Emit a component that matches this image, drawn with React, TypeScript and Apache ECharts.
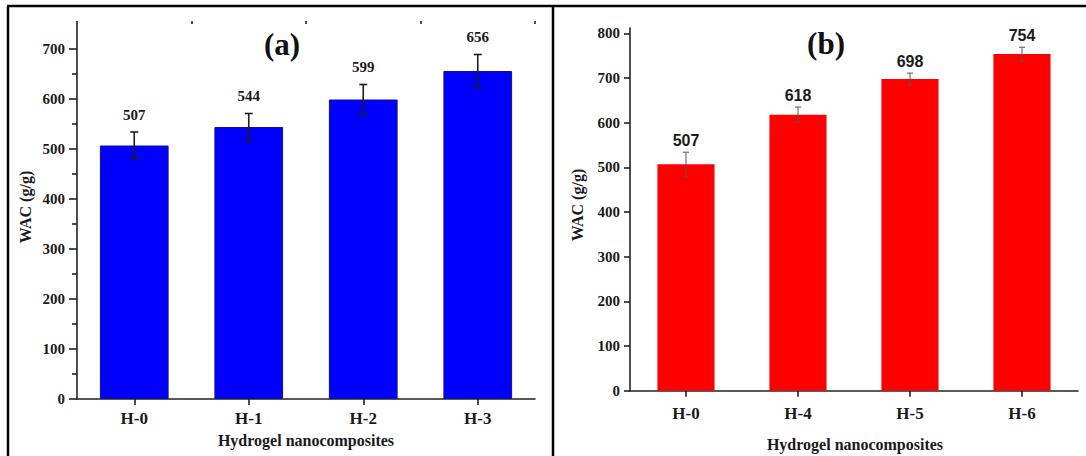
import React, { useEffect, useRef } from "react";
import * as echarts from "echarts";

// Panel (a): water absorption capacity of H-0 … H-3
const categoriesA = ["H-0", "H-1", "H-2", "H-3"];
const wacA = [507, 544, 599, 656];
const errA = [27, 27, 30, 33];

// Panel (b): water absorption capacity of H-0, H-4 … H-6
const categoriesB = ["H-0", "H-4", "H-5", "H-6"];
const wacB = [507, 618, 698, 754];
const errB = [27, 17, 13, 15];

const yTicksA = [0, 100, 200, 300, 400, 500, 600, 700];
const yTicksB = [0, 100, 200, 300, 400, 500, 600, 700, 800];

const SERIF = "'Liberation Serif', 'Times New Roman', serif";
const SANS = "'Liberation Sans', Arial, sans-serif";
const AXIS = "#222";

function errorBarSeries(
  xAxisIndex: number,
  yAxisIndex: number,
  values: number[],
  errs: number[],
  opts: { stroke: string; width: number; cap: number; labelFont: string; gap: number }
) {
  return {
    type: "custom",
    xAxisIndex,
    yAxisIndex,
    z: 5,
    data: values.map((v, i) => [i, v, errs[i]]),
    encode: { x: 0, y: 1 },
    renderItem: (_params: any, api: any) => {
      const i = api.value(0);
      const v = api.value(1);
      const e = api.value(2);
      const top = api.coord([i, v + e]);
      const bot = api.coord([i, v - e]);
      const s = { stroke: opts.stroke, lineWidth: opts.width };
      return {
        type: "group",
        children: [
          { type: "line", shape: { x1: top[0], y1: top[1], x2: bot[0], y2: bot[1] }, style: s },
          { type: "line", shape: { x1: top[0] - opts.cap, y1: top[1], x2: top[0] + opts.cap, y2: top[1] }, style: s },
          { type: "line", shape: { x1: bot[0] - opts.cap, y1: bot[1], x2: bot[0] + opts.cap, y2: bot[1] }, style: s },
          {
            type: "text",
            x: top[0],
            y: top[1] - opts.gap,
            style: {
              text: String(v),
              font: opts.labelFont,
              fill: "#1a1a1a",
              align: "center",
              verticalAlign: "bottom",
            },
          },
        ],
      };
    },
  };
}

export default function App() {
  const ref = useRef<HTMLDivElement>(null);

  useEffect(() => {
    if (!ref.current) return;
    const chart = echarts.init(ref.current, undefined, { renderer: "svg" });

    const axisLine = { show: true, lineStyle: { color: AXIS, width: 1.6 } };

    chart.setOption({
      animation: false,
      backgroundColor: "#ffffff",
      grid: [
        { left: 77, top: 24, width: 458, height: 375 },
        { left: 630, top: 28, width: 448, height: 362.7 },
      ],
      xAxis: [
        {
          type: "category",
          gridIndex: 0,
          data: categoriesA,
          axisLine,
          axisTick: { show: true, alignWithLabel: true, length: 6, lineStyle: { color: AXIS, width: 1.6 } },
          axisLabel: { margin: 11, fontFamily: SERIF, fontWeight: "bold", fontSize: 17, color: "#1a1a1a" },
          splitLine: { show: false },
        },
        {
          type: "category",
          gridIndex: 0,
          data: categoriesA,
          axisLine: { show: false },
          axisTick: { show: true, length: 3, lineStyle: { color: AXIS, width: 1.6 } },
          axisLabel: { show: false },
          splitLine: { show: false },
        },
        {
          type: "category",
          gridIndex: 1,
          data: categoriesB,
          axisLine,
          axisTick: { show: true, alignWithLabel: true, length: 6, lineStyle: { color: AXIS, width: 1.6 } },
          axisLabel: { margin: 14, fontFamily: SERIF, fontWeight: "bold", fontSize: 17, color: "#1a1a1a" },
          splitLine: { show: false },
        },
      ],
      yAxis: [
        {
          type: "value",
          gridIndex: 0,
          min: 0,
          max: 750,
          interval: 100,
          axisLine,
          axisTick: { show: true, length: 8, lineStyle: { color: AXIS, width: 1.6 }, customValues: yTicksA },
          minorTick: { show: true, splitNumber: 2, length: 5, lineStyle: { color: AXIS, width: 1.6 } },
          axisLabel: {
            margin: 12,
            fontFamily: SERIF,
            fontWeight: "bold",
            fontSize: 15,
            color: "#1a1a1a",
            customValues: yTicksA,
          },
          splitLine: { show: false },
        },
        {
          type: "value",
          gridIndex: 1,
          min: 0,
          max: 812,
          interval: 100,
          axisLine,
          axisTick: { show: true, length: 6, lineStyle: { color: AXIS, width: 1.6 }, customValues: yTicksB },
          axisLabel: {
            margin: 10,
            fontFamily: SERIF,
            fontWeight: "bold",
            fontSize: 15,
            color: "#1a1a1a",
            customValues: yTicksB,
          },
          splitLine: { show: false },
        },
      ],
      series: [
        {
          type: "bar",
          xAxisIndex: 0,
          yAxisIndex: 0,
          data: wacA,
          barWidth: "60%",
          itemStyle: { color: "#0000ff", borderColor: "#10108a", borderWidth: 1 },
        },
        errorBarSeries(0, 0, wacA, errA, {
          stroke: "#1e1e1e",
          width: 1.6,
          cap: 4,
          labelFont: `bold 15px ${SERIF}`,
          gap: 10,
        }),
        {
          type: "bar",
          xAxisIndex: 2,
          yAxisIndex: 1,
          data: wacB,
          barWidth: "51%",
          itemStyle: { color: "#ff0000" },
        },
        errorBarSeries(2, 1, wacB, errB, {
          stroke: "#555555",
          width: 1,
          cap: 3,
          labelFont: `bold 16px ${SANS}`,
          gap: 4,
        }),
      ],
      graphic: [
        // panel frames
        { type: "line", shape: { x1: 7, y1: 6, x2: 1086, y2: 6 }, style: { stroke: "#000", lineWidth: 2.5 } },
        { type: "line", shape: { x1: 8, y1: 6, x2: 8, y2: 456 }, style: { stroke: "#000", lineWidth: 2.5 } },
        { type: "line", shape: { x1: 553, y1: 6, x2: 553, y2: 456 }, style: { stroke: "#000", lineWidth: 2.5 } },
        // panel tags
        {
          type: "text",
          x: 282,
          y: 44,
          style: { text: "(a)", font: `bold 31px ${SERIF}`, fill: "#111", align: "center", verticalAlign: "middle" },
        },
        {
          type: "text",
          x: 826,
          y: 43,
          style: { text: "(b)", font: `bold 31px ${SERIF}`, fill: "#111", align: "center", verticalAlign: "middle" },
        },
        // axis titles
        {
          type: "text",
          x: 25,
          y: 207,
          rotation: Math.PI / 2,
          style: { text: "WAC (g/g)", font: `bold 16px ${SERIF}`, fill: "#1a1a1a", align: "center", verticalAlign: "middle" },
        },
        {
          type: "text",
          x: 577,
          y: 205,
          rotation: Math.PI / 2,
          style: { text: "WAC (g/g)", font: `bold 16px ${SERIF}`, fill: "#1a1a1a", align: "center", verticalAlign: "middle" },
        },
        {
          type: "text",
          x: 306,
          y: 440,
          style: {
            text: "Hydrogel nanocomposites",
            font: `bold 16px ${SERIF}`,
            fill: "#1a1a1a",
            align: "center",
            verticalAlign: "middle",
          },
        },
        {
          type: "text",
          x: 855,
          y: 444,
          style: {
            text: "Hydrogel nanocomposites",
            font: `bold 16px ${SERIF}`,
            fill: "#1a1a1a",
            align: "center",
            verticalAlign: "middle",
          },
        },
      ],
    });

    return () => chart.dispose();
  }, []);

  return (
    <div
      ref={ref}
      style={{ position: "fixed", left: 0, top: 0, width: 1086, height: 456, background: "#fff" }}
    />
  );
}
